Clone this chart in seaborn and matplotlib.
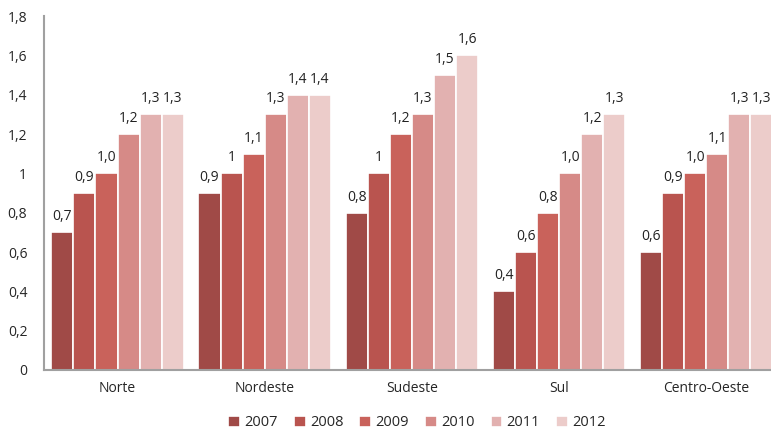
import pandas as pd
import matplotlib.pyplot as plt
import seaborn as sns

regions = ['Norte', 'Nordeste', 'Sudeste', 'Sul', 'Centro-Oeste']
years = ['2007', '2008', '2009', '2010', '2011', '2012']
values = {
    '2007': [0.7, 0.9, 0.8, 0.4, 0.6],
    '2008': [0.9, 1.0, 1.0, 0.6, 0.9],
    '2009': [1.0, 1.1, 1.2, 0.8, 1.0],
    '2010': [1.2, 1.3, 1.3, 1.0, 1.1],
    '2011': [1.3, 1.4, 1.5, 1.2, 1.3],
    '2012': [1.3, 1.4, 1.6, 1.3, 1.3],
}
labels = {
    '2007': ['0,7', '0,9', '0,8', '0,4', '0,6'],
    '2008': ['0,9', '1', '1', '0,6', '0,9'],
    '2009': ['1,0', '1,1', '1,2', '0,8', '1,0'],
    '2010': ['1,2', '1,3', '1,3', '1,0', '1,1'],
    '2011': ['1,3', '1,4', '1,5', '1,2', '1,3'],
    '2012': ['1,3', '1,4', '1,6', '1,3', '1,3'],
}
colors = ['#a04a47', '#b9544f', '#c9625b', '#d68a87', '#e2b1b0', '#ecccca']

df = pd.DataFrame([(r, y, values[y][i]) for y in years for i, r in enumerate(regions)],
                  columns=['region', 'year', 'value'])

sns.set_style('white')
plt.rcParams['font.family'] = ['Open Sans', 'DejaVu Sans']

fig = plt.figure(figsize=(7.71, 4.33), dpi=100)
ax = fig.add_axes([0.057, 0.1455, 0.943, 0.8175])

sns.barplot(data=df, x='region', y='value', hue='year', order=regions, hue_order=years,
            palette=colors, width=0.9, edgecolor='white', linewidth=1.2, saturation=1,
            ax=ax)

for cont, y in zip(ax.containers, years):
    for bar, txt in zip(cont, labels[y]):
        ax.text(bar.get_x() + bar.get_width() / 2, bar.get_height() + 0.04, txt,
                ha='center', va='bottom', fontsize=10, color='#222222')

ax.set_ylim(0, 1.8)
ax.set_xlim(-0.5, 4.44)
yt = [0, 0.2, 0.4, 0.6, 0.8, 1.0, 1.2, 1.4, 1.6, 1.8]
ax.set_yticks(yt)
ax.set_yticklabels(['0', '0,2', '0,4', '0,6', '0,8', '1', '1,2', '1,4', '1,6', '1,8'], fontsize=10)
ax.tick_params(axis='x', labelsize=10, pad=8, length=0)
ax.tick_params(axis='y', pad=12, length=0)
ax.set_xlabel('')
ax.set_ylabel('')
for s in ['top', 'right']:
    ax.spines[s].set_visible(False)
for s in ['left', 'bottom']:
    ax.spines[s].set_color('#a0a0a0')
    ax.spines[s].set_linewidth(1.5)

ax.get_legend().remove()
handles, hl = ax.get_legend_handles_labels()
fig.legend(handles, hl, loc='lower center', bbox_to_anchor=(417 / 771, 0.003), ncol=6,
           frameon=False, fontsize=10.5, handlelength=0.8, handleheight=0.8,
           handletextpad=0.3, columnspacing=1.1, borderpad=0.1, borderaxespad=0)

fig.savefig('out.png', dpi=100)
